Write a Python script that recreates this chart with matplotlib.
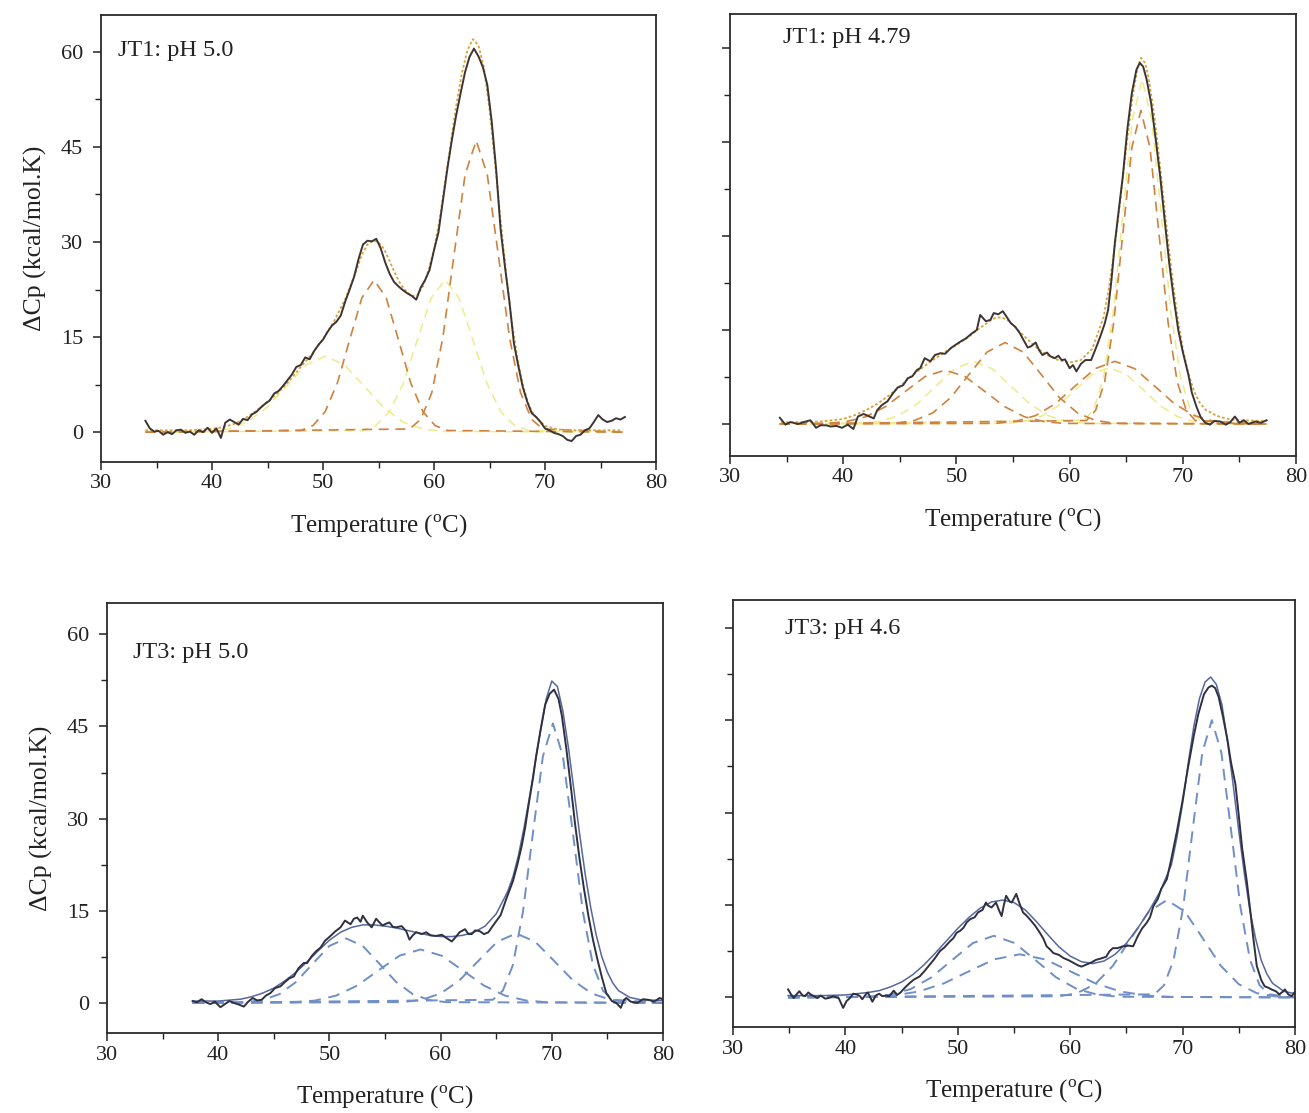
import matplotlib
matplotlib.use("Agg")
import matplotlib.pyplot as plt
from matplotlib.ticker import MultipleLocator

plt.rcParams['font.family'] = ['Liberation Serif', 'DejaVu Serif']
plt.rcParams['mathtext.fontset'] = 'custom'
plt.rcParams['mathtext.rm'] = 'Liberation Serif'

# ---------------- JT1 pH 5.0 ----------------
tl_exp_T = [34.0, 34.4, 34.8, 35.2, 35.6, 36.0, 36.4, 36.8, 37.2, 37.6, 38.0, 38.4, 38.8, 39.2, 39.6, 40.0,
            40.4, 40.8, 41.2, 41.6, 42.0, 42.4, 42.8, 43.2, 43.6, 44.0, 44.4, 44.8, 45.2, 45.6, 46.0, 46.4,
            46.8, 47.2, 47.6, 48.0, 48.4, 48.8, 49.2, 49.6, 50.0, 50.4, 50.8, 51.2, 51.6, 52.0, 52.4, 52.8,
            53.2, 53.6, 54.0, 54.4, 54.8, 55.2, 55.6, 56.0, 56.4, 56.8, 57.2, 57.6, 58.0, 58.4, 58.8, 59.2,
            59.6, 60.0, 60.4, 60.8, 61.2, 61.6, 62.0, 62.4, 62.8, 63.2, 63.6, 64.0, 64.4, 64.8, 65.2, 65.6,
            66.0, 66.4, 66.8, 67.2, 67.6, 68.0, 68.4, 68.8, 69.2, 69.6, 70.0, 70.4, 70.8, 71.2, 71.6, 72.0,
            72.4, 72.8, 73.2, 73.6, 74.0, 74.4, 74.8, 75.2, 75.6, 76.0, 76.4, 76.8, 77.2]
tl_exp_Cp = [1.8, 0.6, 0.1, 0.2, -0.4, 0.0, -0.3, 0.3, 0.4, -0.1, 0.1, -0.4, 0.3, 0.0, 0.7, -0.1,
             0.6, -0.9, 1.5, 2.0, 1.6, 1.2, 2.1, 1.9, 2.8, 3.2, 3.9, 4.5, 5.0, 6.1, 6.5, 7.3,
             8.2, 9.1, 10.3, 10.6, 11.8, 11.5, 12.8, 13.8, 14.6, 15.8, 16.8, 17.4, 18.4, 20.6, 22.5, 24.5,
             27.3, 29.6, 30.2, 30.1, 30.5, 29.0, 26.8, 25.0, 23.7, 23.0, 22.4, 21.9, 21.5, 20.9, 22.8, 24.0,
             25.6, 28.7, 31.5, 36.5, 41.5, 46.0, 50.0, 53.5, 56.8, 59.2, 60.5, 59.3, 57.6, 54.8, 49.0, 41.4,
             32.0, 26.0, 20.5, 14.0, 10.4, 7.1, 4.8, 3.0, 2.4, 1.6, 0.6, 0.3, -0.1, -0.3, -0.6, -1.2,
             -1.4, -0.6, -0.4, 0.3, 0.6, 1.6, 2.7, 2.0, 1.6, 1.8, 2.2, 2.0, 2.4]
tl_fit_T = [34, 36, 38, 40, 41, 42, 43, 44, 45, 46, 47, 48, 49, 50, 51, 52, 53, 53.5, 54, 54.5, 55, 55.5,
            56, 56.5, 57, 57.5, 58, 58.5, 59, 59.5, 60, 60.5, 61, 61.5, 62, 62.5, 63, 63.5, 64, 64.5,
            65, 65.5, 66, 66.5, 67, 67.5, 68, 68.5, 69, 70, 71, 72, 77]
tl_fit_Cp = [0.3, 0.3, 0.3, 0.5, 0.8, 1.3, 2.2, 3.4, 4.8, 6.3, 8.2, 10.3, 12.3, 14.7, 17.5, 21.0, 25.5, 28.0,
             29.6, 30.2, 30.0, 28.9, 27.0, 25.0, 23.3, 22.2, 21.5, 21.6, 23.0, 25.5, 28.8, 33.5, 39.5, 45.5,
             51.5, 56.5, 60.2, 62.0, 61.0, 57.5, 51.0, 42.5, 33.5, 25.0, 17.5, 11.8, 7.5, 4.5, 2.7, 1.0,
             0.5, 0.3, 0.3]
tl_orangeA_T = [34.0, 48.0, 49.1, 50.2, 51.3, 52.4, 53.5, 54.6, 55.7, 56.8, 57.9, 59.0, 60.1, 61.2, 77.2]
tl_orangeA_Cp = [0, 0.27, 1.05, 3.25, 7.79, 14.56, 21.18, 24.0, 21.18, 14.56, 7.79, 3.25, 1.05, 0.27, 0]
tl_orangeB_T = [34.0, 57.8, 58.8, 59.8, 60.8, 61.8, 62.8, 63.8, 64.8, 65.8, 66.8, 67.8, 68.8, 69.8, 77.2]
tl_orangeB_Cp = [0, 0.51, 2.02, 6.22, 14.94, 27.9, 40.6, 46.0, 40.6, 27.9, 14.94, 6.22, 2.02, 0.51, 0]
tl_yellowC_T = [34.0, 39.7, 41.45, 43.2, 44.95, 46.7, 48.45, 50.2, 51.95, 53.7, 55.45, 57.2, 58.95, 60.7, 77.2]
tl_yellowC_Cp = [0, 0.13, 0.53, 1.62, 3.9, 7.28, 10.59, 12.0, 10.59, 7.28, 3.9, 1.62, 0.53, 0.13, 0]
tl_yellowD_T = [34.0, 53.5, 54.75, 56.0, 57.25, 58.5, 59.75, 61.0, 62.25, 63.5, 64.75, 66.0, 67.25, 68.5, 77.2]
tl_yellowD_Cp = [0, 0.27, 1.05, 3.25, 7.79, 14.56, 21.18, 24.0, 21.18, 14.56, 7.79, 3.25, 1.05, 0.27, 0]

# ---------------- JT1 pH 4.79 ----------------
tr_exp_T = [34.4, 34.9, 35.3, 35.6, 36.0, 36.5, 37.1, 37.6, 38.0, 38.5, 38.9, 39.4, 39.9, 40.4, 40.9, 41.3,
            41.8, 42.2, 42.7, 43.0, 43.4, 43.9, 44.4, 44.8, 45.3, 45.7, 46.1, 46.5, 46.8, 47.2, 47.7, 48.1,
            48.6, 49.0, 49.5, 49.9, 50.4, 50.8, 51.4, 51.8, 52.1, 52.6, 53.0, 53.3, 53.7, 54.1, 54.4, 54.8,
            55.2, 55.6, 55.9, 56.3, 56.6, 57.0, 57.3, 57.6, 58.0, 58.3, 58.7, 59.0, 59.3, 59.6, 60.0, 60.3,
            60.6, 61.0, 61.4, 61.9, 62.3, 62.7, 63.1, 63.4, 63.7, 64.0, 64.4, 64.7, 65.1, 65.5, 65.9, 66.2,
            66.5, 66.8, 67.2, 67.6, 68.0, 68.4, 68.8, 69.2, 69.6, 70.0, 70.5, 70.8, 71.2, 71.6, 72.0, 72.4,
            72.8, 73.3, 73.8, 74.2, 74.6, 75.0, 75.4, 75.8, 76.4, 76.9, 77.4]
tr_exp_Cp = [1.0, -0.1, 0.3, 0.2, 0.0, 0.3, 0.6, -0.6, -0.2, -0.2, -0.4, -0.3, -0.6, -0.1, -0.8, 1.2,
             1.6, 1.3, 0.9, 2.2, 3.0, 3.6, 4.9, 5.8, 6.2, 7.3, 7.6, 8.6, 8.9, 10.5, 10.0, 11.0,
             11.3, 11.2, 12.1, 12.6, 13.2, 13.6, 14.5, 15.0, 17.4, 16.4, 16.6, 17.7, 17.5, 18.0, 17.2, 16.1,
             15.5, 14.5, 13.5, 12.2, 12.4, 13.0, 11.8, 11.0, 11.4, 10.8, 10.5, 10.9, 10.2, 10.3, 8.9, 9.4,
             8.4, 9.6, 10.2, 10.2, 12.0, 13.9, 16.0, 18.2, 23.0, 28.9, 35.0, 39.5, 47.0, 52.8, 56.5, 57.6,
             57.0, 55.0, 51.2, 45.5, 39.5, 32.5, 25.7, 20.0, 15.0, 11.5, 7.8, 5.0, 2.8, 1.0, 0.2, -0.1,
             0.5, 0.4, -0.1, 0.3, 1.2, 0.2, 0.6, 0.0, 0.4, 0.2, 0.6]
tr_fit_T = [34.5, 36, 38, 40, 41, 42, 43, 44, 45, 46, 47, 48, 49, 50, 51, 52, 53, 53.5, 54, 54.5, 55, 56,
            57, 58, 59, 60, 61, 62, 63, 63.5, 64, 64.5, 65, 65.5, 66, 66.3, 66.7, 67, 67.5, 68, 68.5,
            69, 69.5, 70, 70.5, 71, 71.5, 72, 73, 74, 75, 77.4]
tr_fit_Cp = [0.3, 0.3, 0.4, 0.8, 1.4, 2.2, 3.2, 4.5, 6.0, 7.6, 9.0, 10.3, 11.5, 12.6, 13.8, 15.2, 16.5, 17.0,
             17.0, 16.6, 15.8, 14.0, 12.3, 11.0, 10.2, 9.8, 10.2, 12.0, 17.0, 22.0, 28.5, 36.0, 44.0, 51.5,
             56.8, 58.4, 57.5, 55.0, 49.0, 41.0, 32.5, 24.5, 17.5, 12.0, 8.0, 5.2, 3.4, 2.3, 1.3, 0.8,
             0.6, 0.5]
tr_orange1_T = [34.4, 38.5, 40.25, 42.0, 43.75, 45.5, 47.25, 49.0, 50.75, 52.5, 54.25, 56.0, 57.75, 59.5, 77.4]
tr_orange1_Cp = [0, 0.1, 0.38, 1.16, 2.79, 5.22, 7.59, 8.6, 7.59, 5.22, 2.79, 1.16, 0.38, 0.1, 0]
tr_orange2_T = [34.4, 44.7, 46.3, 47.9, 49.5, 51.1, 52.7, 54.3, 55.9, 57.5, 59.1, 60.7, 62.3, 63.9, 77.4]
tr_orange2_Cp = [0, 0.14, 0.57, 1.76, 4.22, 7.88, 11.47, 13.0, 11.47, 7.88, 4.22, 1.76, 0.57, 0.14, 0]
tr_orange3_T = [34.4, 53.5, 55.25, 57.0, 58.75, 60.5, 62.25, 64.0, 65.75, 67.5, 69.25, 71.0, 72.75, 74.5, 77.4]
tr_orange3_Cp = [0, 0.11, 0.44, 1.35, 3.25, 6.07, 8.83, 10.0, 8.83, 6.07, 3.25, 1.35, 0.44, 0.11, 0]
tr_orange4_T = [34.4, 61.5, 62.3, 63.1, 63.9, 64.7, 65.5, 66.3, 67.1, 67.9, 68.7, 69.5, 70.3, 71.1, 77.4]
tr_orange4_Cp = [0, 0.56, 2.2, 6.77, 16.2, 30.3, 44.1, 50.0, 44.1, 30.3, 16.2, 6.77, 2.2, 0.56, 0]
tr_yellow1_T = [34.4, 41.6, 43.25, 44.9, 46.55, 48.2, 49.85, 51.5, 53.15, 54.8, 56.45, 58.1, 59.75, 61.4, 77.4]
tr_yellow1_Cp = [0, 0.11, 0.44, 1.35, 3.25, 6.07, 8.83, 10.0, 8.83, 6.07, 3.25, 1.35, 0.44, 0.11, 0]
tr_yellow2_T = [34.4, 54.5, 56.0, 57.5, 59.0, 60.5, 62.0, 63.5, 65.0, 66.5, 68.0, 69.5, 71.0, 72.5, 77.4]
tr_yellow2_Cp = [0, 0.1, 0.4, 1.22, 2.92, 5.46, 7.94, 9.0, 7.94, 5.46, 2.92, 1.22, 0.4, 0.1, 0]
tr_yellow3_T = [34.4, 61.3, 62.15, 63.0, 63.85, 64.7, 65.55, 66.4, 67.25, 68.1, 68.95, 69.8, 70.65, 71.5, 77.4]
tr_yellow3_Cp = [0, 0.61, 2.41, 7.44, 17.86, 33.36, 48.54, 55.0, 48.54, 33.36, 17.86, 7.44, 2.41, 0.61, 0]

# ---------------- JT3 pH 5.0 ----------------
bl_exp_T = [37.7, 38.1, 38.5, 38.9, 39.3, 39.7, 40.2, 40.6, 41.0, 41.4, 41.9, 42.3, 42.7, 43.1, 43.5, 43.9,
            44.3, 44.7, 45.1, 45.6, 46.0, 46.4, 46.8, 47.2, 47.7, 48.0, 48.4, 48.8, 49.2, 49.6, 50.1, 50.5,
            51.0, 51.4, 51.9, 52.2, 52.5, 52.8, 53.0, 53.4, 53.8, 54.2, 54.5, 54.8, 55.1, 55.4, 55.7, 56.0,
            56.5, 56.9, 57.2, 57.5, 57.8, 58.3, 58.7, 59.1, 59.6, 60.1, 60.5, 61.0, 61.4, 61.7, 62.2, 62.5,
            62.8, 63.1, 63.5, 63.9, 64.3, 64.6, 65.0, 65.4, 65.9, 66.5, 66.9, 67.3, 67.6, 67.9, 68.3, 68.6,
            69.0, 69.4, 69.8, 70.2, 70.6, 70.9, 71.3, 71.7, 72.1, 72.5, 72.9, 73.3, 73.7, 74.1, 74.5, 74.9,
            75.4, 75.8, 76.2, 76.5, 76.7, 77.1, 77.7, 78.2, 78.7, 79.2, 79.7, 80.0]
bl_exp_Cp = [0.3, 0.1, 0.6, 0.1, -0.2, 0.2, -0.7, -0.2, 0.3, 0.0, -0.3, -0.6, 0.2, 0.8, 0.4, 0.5,
             1.2, 1.6, 2.4, 2.7, 3.4, 4.0, 4.3, 5.6, 6.5, 6.5, 7.6, 8.4, 9.0, 10.1, 10.9, 11.6,
             12.3, 13.4, 12.8, 13.7, 13.9, 13.2, 14.2, 13.1, 12.3, 13.7, 13.1, 12.6, 12.9, 13.1, 12.4, 12.3,
             12.5, 11.7, 10.3, 11.0, 11.5, 11.2, 11.5, 11.0, 10.9, 11.1, 10.6, 10.0, 10.8, 11.5, 12.0, 11.2,
             11.2, 11.8, 11.7, 11.2, 11.5, 12.3, 13.3, 14.3, 16.9, 19.8, 22.5, 25.6, 28.5, 32.1, 36.5, 40.3,
             44.5, 48.5, 50.3, 51.0, 49.5, 46.8, 41.5, 35.4, 29.0, 23.4, 18.5, 14.1, 10.3, 7.1, 4.2, 1.6,
             0.3, 0.0, -0.8, 0.5, 0.8, 0.2, 0.0, 0.6, 0.5, 0.2, 0.8, 0.6]
bl_fit_T = [37.7, 40, 42, 43, 44, 45, 46, 47, 48, 49, 50, 51, 52, 53, 54, 55, 56, 57, 58, 59, 60, 61, 62,
            63, 64, 65, 66, 66.5, 67, 67.5, 68, 68.5, 69, 69.5, 70, 70.5, 71, 71.5, 72, 72.5, 73, 73.5,
            74, 74.5, 75, 75.5, 76, 77, 78, 80]
bl_fit_Cp = [0.3, 0.3, 0.6, 1.0, 1.6, 2.4, 3.6, 5.0, 6.7, 8.5, 10.2, 11.5, 12.3, 12.7, 12.7, 12.5, 12.2, 11.8,
             11.4, 11.0, 10.8, 10.8, 11.0, 11.5, 12.5, 14.5, 18.0, 20.5, 24.0, 28.5, 33.5, 39.0, 44.5, 49.5,
             52.4, 51.5, 47.5, 41.5, 34.5, 27.5, 21.0, 15.5, 11.0, 7.5, 5.0, 3.2, 2.0, 0.9, 0.5, 0.4]
bl_comp1_T = [37.7, 42.5, 44.0, 45.5, 47.0, 48.5, 50.0, 51.5, 53.0, 54.5, 56.0, 57.5, 59.0, 60.5, 80.0]
bl_comp1_Cp = [0, 0.12, 0.46, 1.42, 3.41, 6.37, 9.27, 10.5, 9.27, 6.37, 3.41, 1.42, 0.46, 0.12, 0]
bl_comp2_T = [37.7, 46.8, 48.7, 50.6, 52.5, 54.4, 56.3, 58.2, 60.1, 62.0, 63.9, 65.8, 67.7, 69.6, 80.0]
bl_comp2_Cp = [0, 0.1, 0.38, 1.18, 2.82, 5.28, 7.68, 8.7, 7.68, 5.28, 2.82, 1.18, 0.38, 0.1, 0]
bl_comp3_T = [37.7, 56.6, 58.3, 60.0, 61.7, 63.4, 65.1, 66.8, 68.5, 70.2, 71.9, 73.6, 75.3, 77.0, 80.0]
bl_comp3_Cp = [0, 0.13, 0.5, 1.53, 3.67, 6.85, 9.97, 11.3, 9.97, 6.85, 3.67, 1.53, 0.5, 0.13, 0]
bl_comp4_T = [37.7, 64.7, 65.6, 66.5, 67.4, 68.3, 69.2, 70.1, 71.0, 71.9, 72.8, 73.7, 74.6, 75.5, 80.0]
bl_comp4_Cp = [0, 0.51, 2.0, 6.16, 14.77, 27.6, 40.15, 45.5, 40.15, 27.6, 14.77, 6.16, 2.0, 0.51, 0]

# ---------------- JT3 pH 4.6 ----------------
br_exp_T = [34.9, 35.2, 35.4, 35.7, 35.9, 36.2, 36.4, 36.7, 36.9, 37.2, 37.5, 37.8, 38.2, 38.5, 38.9, 39.2,
            39.4, 39.8, 40.1, 40.4, 40.7, 41.0, 41.3, 41.5, 41.9, 42.0, 42.4, 42.7, 43.0, 43.3, 43.6, 43.9,
            44.3, 44.6, 44.9, 45.3, 45.7, 46.1, 46.6, 47.0, 47.5, 47.9, 48.4, 48.8, 49.3, 49.6, 49.9, 50.2,
            50.5, 50.8, 51.1, 51.5, 51.8, 52.2, 52.5, 52.7, 53.0, 53.2, 53.4, 53.7, 53.9, 54.1, 54.3, 54.6,
            54.8, 55.0, 55.2, 55.5, 55.8, 56.1, 56.4, 56.9, 57.3, 57.6, 57.9, 58.2, 58.5, 59.0, 59.4, 59.9,
            60.3, 60.7, 61.0, 61.4, 61.8, 62.3, 62.7, 63.2, 63.5, 63.8, 64.2, 64.7, 65.2, 65.6, 66.0, 66.4,
            66.8, 67.1, 67.4, 67.8, 68.1, 68.6, 69.0, 69.5, 70.0, 70.5, 71.0, 71.4, 71.9, 72.3, 72.6, 72.9,
            73.2, 73.6, 74.0, 74.3, 74.7, 75.0, 75.3, 75.7, 76.0, 76.3, 76.6, 77.0, 77.3, 77.6, 77.9, 78.3,
            78.6, 78.9, 79.1, 79.4, 79.7, 80.0]
br_exp_Cp = [1.3, 0.4, -0.1, 0.6, 1.0, 0.3, 0.2, 0.8, 0.5, 0.2, -0.1, 0.3, -0.2, -0.1, 0.2, 0.0,
             -0.1, -1.7, -0.6, -0.1, 0.6, 0.5, 0.2, -0.3, 0.7, 0.8, -0.7, 0.3, 0.6, 0.2, 0.3, 0.2,
             1.1, 0.4, 0.8, 1.6, 2.3, 2.9, 3.4, 4.2, 5.3, 6.2, 7.5, 8.1, 9.1, 9.6, 10.5, 10.8,
             11.3, 12.2, 12.7, 13.0, 13.8, 14.2, 15.4, 14.9, 14.6, 15.0, 15.4, 14.0, 13.2, 15.0, 16.5, 15.6,
             15.4, 16.1, 16.8, 15.2, 13.8, 13.3, 12.7, 11.6, 10.5, 9.6, 8.3, 7.8, 7.2, 6.9, 6.4, 6.0,
             5.6, 5.2, 5.0, 5.3, 5.6, 6.1, 6.3, 6.6, 7.5, 8.0, 8.0, 8.3, 8.4, 8.3, 9.9, 11.2,
             12.1, 13.0, 14.8, 16.0, 17.6, 19.2, 22.5, 27.0, 32.0, 37.5, 42.5, 46.0, 49.2, 50.3, 50.6, 50.2,
             48.8, 45.5, 41.7, 38.2, 34.6, 29.5, 24.2, 19.0, 14.4, 9.5, 5.1, 2.8, 1.8, 1.6, 1.3, 1.0,
             0.5, 0.9, 1.3, 0.5, 0.2, 0.9]
br_fit_T = [34.9, 38, 40, 42, 43, 44, 45, 46, 47, 48, 49, 50, 51, 52, 53, 54, 55, 56, 57, 58, 59, 60, 61,
            62, 63, 64, 65, 66, 67, 68, 69, 69.5, 70, 70.5, 71, 71.5, 72, 72.5, 73, 73.5, 74, 74.5, 75,
            75.5, 76, 76.5, 77, 77.5, 78, 79, 80]
br_fit_Cp = [0.3, 0.3, 0.4, 0.8, 1.1, 1.7, 2.5, 3.7, 5.3, 7.2, 9.2, 11.2, 13.0, 14.5, 15.5, 15.8, 15.4, 14.2,
             12.3, 10.2, 8.2, 6.7, 5.8, 5.5, 5.9, 7.0, 8.8, 11.2, 14.0, 17.2, 21.5, 26.0, 31.5, 38.0, 44.0,
             48.5, 51.2, 52.0, 50.8, 47.5, 41.5, 34.5, 27.0, 20.0, 14.0, 9.5, 6.0, 3.8, 2.3, 1.0, 0.6]
br_compA_T = [34.9, 42.1, 43.95, 45.8, 47.65, 49.5, 51.35, 53.2, 55.05, 56.9, 58.75, 60.6, 62.45, 64.3, 80.0]
br_compA_Cp = [0, 0.11, 0.44, 1.35, 3.25, 6.07, 8.83, 10.0, 8.83, 6.07, 3.25, 1.35, 0.44, 0.11, 0]
br_compB_T = [34.9, 42.0, 44.25, 46.5, 48.75, 51.0, 53.25, 55.5, 57.75, 60.0, 62.25, 64.5, 66.75, 69.0, 80.0]
br_compB_Cp = [0, 0.08, 0.31, 0.95, 2.27, 4.25, 6.18, 7.0, 6.18, 4.25, 2.27, 0.95, 0.31, 0.08, 0]
br_compC_T = [34.9, 59.0, 60.6, 62.2, 63.8, 65.4, 67.0, 68.6, 70.2, 71.8, 73.4, 75.0, 76.6, 78.2, 80.0]
br_compC_Cp = [0, 0.18, 0.69, 2.14, 5.13, 9.58, 13.94, 15.8, 13.94, 9.58, 5.13, 2.14, 0.69, 0.18, 0]
br_compD_T = [34.9, 67.5, 68.35, 69.2, 70.05, 70.9, 71.75, 72.6, 73.45, 74.3, 75.15, 76.0, 76.85, 77.7, 80.0]
br_compD_Cp = [0, 0.5, 1.98, 6.09, 14.61, 27.29, 39.71, 45.0, 39.71, 27.29, 14.61, 6.09, 1.98, 0.5, 0]

panel_labels = ["JT1: pH 5.0", "JT1: pH 4.79", "JT3: pH 5.0", "JT3: pH 4.6"]
x_ticks = [30, 40, 50, 60, 70, 80]
y_ticks = [0, 15, 30, 45, 60]

# ---------------- drawing ----------------
fig = plt.figure(figsize=(13.09, 11.13), dpi=100)
rects = [
    [101 / 1309, 1 - 462 / 1113, 555 / 1309, 447 / 1113],
    [730 / 1309, 1 - 456 / 1113, 566 / 1309, 442 / 1113],
    [107 / 1309, 1 - 1033 / 1113, 556 / 1309, 430 / 1113],
    [733 / 1309, 1 - 1027 / 1113, 562 / 1309, 427 / 1113],
]
ylims = [(-4.7, 65.8), (-5.1, 65.4), (-4.9, 65.1), (-4.8, 64.5)]
label_pos = [(0.031, 0.92), (0.094, 0.946), (0.047, 0.886), (0.093, 0.934)]
axes = [fig.add_axes(r) for r in rects]

EXP_WARM = '#3d3533'
EXP_COOL = '#2f3040'
ORANGE = '#cf8240'
YELLOW = '#ecec8c'
FIT_WARM = '#d9a338'
BLUE = '#6f8fc6'
FIT_COOL = '#55679c'
dash = (0, (6, 4))

ax = axes[0]
for T, C in [(tl_yellowC_T, tl_yellowC_Cp), (tl_yellowD_T, tl_yellowD_Cp)]:
    ax.plot(T, C, color=YELLOW, lw=1.1, ls=dash)
for T, C in [(tl_orangeA_T, tl_orangeA_Cp), (tl_orangeB_T, tl_orangeB_Cp)]:
    ax.plot(T, C, color=ORANGE, lw=1.2, ls=dash)
ax.plot(tl_fit_T, tl_fit_Cp, color=FIT_WARM, lw=1.3, ls=(0, (1.5, 1.2)))
ax.plot(tl_exp_T, tl_exp_Cp, color=EXP_WARM, lw=1.4)

ax = axes[1]
for T, C in [(tr_yellow1_T, tr_yellow1_Cp), (tr_yellow2_T, tr_yellow2_Cp), (tr_yellow3_T, tr_yellow3_Cp)]:
    ax.plot(T, C, color=YELLOW, lw=1.1, ls=dash)
for T, C in [(tr_orange1_T, tr_orange1_Cp), (tr_orange2_T, tr_orange2_Cp),
             (tr_orange3_T, tr_orange3_Cp), (tr_orange4_T, tr_orange4_Cp)]:
    ax.plot(T, C, color=ORANGE, lw=1.2, ls=dash)
ax.plot(tr_fit_T, tr_fit_Cp, color=FIT_WARM, lw=1.3, ls=(0, (1.5, 1.2)))
ax.plot(tr_exp_T, tr_exp_Cp, color=EXP_WARM, lw=1.4)

ax = axes[2]
for T, C in [(bl_comp1_T, bl_comp1_Cp), (bl_comp2_T, bl_comp2_Cp),
             (bl_comp3_T, bl_comp3_Cp), (bl_comp4_T, bl_comp4_Cp)]:
    ax.plot(T, C, color=BLUE, lw=1.4, ls=dash)
ax.plot(bl_fit_T, bl_fit_Cp, color=FIT_COOL, lw=1.1)
ax.plot(bl_exp_T, bl_exp_Cp, color=EXP_COOL, lw=1.4)

ax = axes[3]
for T, C in [(br_compA_T, br_compA_Cp), (br_compB_T, br_compB_Cp),
             (br_compC_T, br_compC_Cp), (br_compD_T, br_compD_Cp)]:
    ax.plot(T, C, color=BLUE, lw=1.4, ls=dash)
ax.plot(br_fit_T, br_fit_Cp, color=FIT_COOL, lw=1.1)
ax.plot(br_exp_T, br_exp_Cp, color=EXP_COOL, lw=1.4)

for i, ax in enumerate(axes):
    ax.set_xlim(30, 80)
    ax.set_ylim(*ylims[i])
    ax.set_xticks(x_ticks)
    ax.set_yticks(y_ticks)
    ax.xaxis.set_minor_locator(MultipleLocator(5))
    ax.yaxis.set_minor_locator(MultipleLocator(7.5))
    ax.tick_params(axis='both', which='major', direction='out', length=6, width=1.1,
                   labelsize=16, colors='#222222')
    ax.tick_params(axis='y', which='major', pad=7)
    ax.tick_params(axis='x', which='major', pad=3)
    ax.tick_params(axis='both', which='minor', direction='out', length=4, width=1.0, colors='#222222')
    ax.tick_params(top=False, right=False)
    for sp in ax.spines.values():
        sp.set_linewidth(1.3)
        sp.set_color('#2a2a2a')
    if i in (1, 3):
        ax.set_yticklabels([])
    else:
        ax.set_ylabel('ΔCp (kcal/mol.K)', fontsize=18.5, labelpad=10, color='#222222')
    ax.set_xlabel('Temperature ($^{\\mathrm{o}}$C)', fontsize=18, labelpad=14, color='#222222')
    ax.text(label_pos[i][0], label_pos[i][1], panel_labels[i], transform=ax.transAxes,
            fontsize=17.5, ha='left', va='center', color='#222222')

fig.savefig('out.png', dpi=100)
